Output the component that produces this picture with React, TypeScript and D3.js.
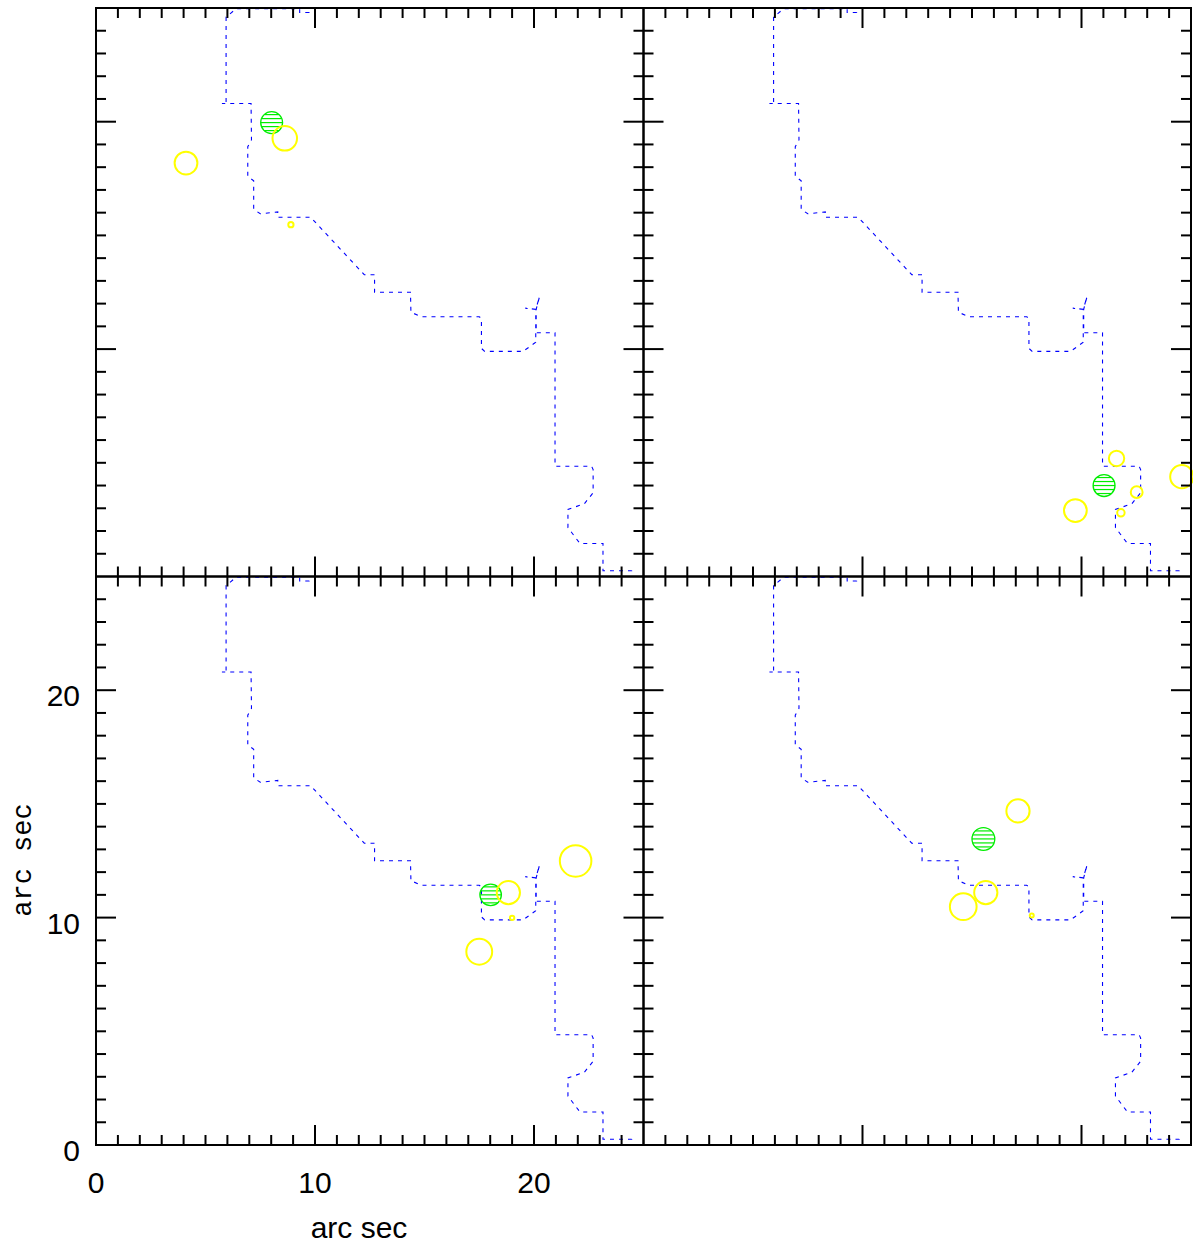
import React, { useRef, useEffect } from 'react';
import { select, scaleLinear, line, range } from 'd3';

const dim = {
  width: 1193,
  height: 1249,
  left: 96,
  right: 1191,
  top: 8,
  bottom: 1145,
  midX: 643.5,
  midY: 576.5,
};

// field outline (arc sec), shared by all four panels
const contour: [number, number][] = [
  [9.73, 25.6], [9.73, 24.8], [9.3, 24.8], [9.3, 24.97], [6.4, 24.97], [5.94, 24.6],
  [5.94, 20.8], [5.75, 20.8], [7.08, 20.8], [7.1, 19.2], [6.93, 18.9], [6.93, 17.6],
  [7.2, 17.4], [7.2, 16.15], [7.5, 15.95], [8.3, 16.03], [8.3, 15.8], [9.8, 15.8],
  [12.25, 13.27], [12.72, 13.27], [12.72, 12.5], [14.36, 12.5], [14.38, 11.62],
  [14.87, 11.42], [17.5, 11.42], [17.6, 11.35], [17.6, 10.03], [17.75, 9.9], [19.5, 9.9],
  [20.08, 10.3], [20.08, 11.75], [19.6, 11.8], [20.08, 11.75], [20.25, 12.3],
  [20.1, 11.75], [20.1, 10.72], [20.96, 10.72], [20.96, 4.85], [22.63, 4.85],
  [22.7, 4.7], [22.7, 3.68], [22.3, 3.2], [21.55, 2.95], [21.55, 2.15], [22.1, 1.45],
  [23.15, 1.45], [23.15, 0.25], [24.46, 0.25], [24.46, 0.45],
];

const panelKeys = ['tl', 'tr', 'bl', 'br'];

// hatched (green) sources per panel: [x, y, r]
const greenTL = [[8.02, 19.96, 0.5]];
const greenTR = [[21.03, 4.0, 0.5]];
const greenBL = [[18.02, 11.0, 0.49]];
const greenBR = [[15.52, 13.46, 0.52]];

// open (yellow) sources per panel: [x, y, r]
const yellowTL = [[8.62, 19.27, 0.56], [4.11, 18.18, 0.52], [8.9, 15.47, 0.12]];
const yellowTR = [
  [21.6, 5.19, 0.35], [19.72, 2.9, 0.52], [22.52, 3.71, 0.27],
  [21.8, 2.8, 0.17], [24.58, 4.39, 0.53],
];
const yellowBL = [[18.83, 11.1, 0.53], [21.9, 12.49, 0.72], [17.5, 8.5, 0.59], [19.0, 9.99, 0.1]];
const yellowBR = [[17.1, 14.69, 0.53], [15.63, 11.1, 0.53], [14.6, 10.48, 0.61], [17.73, 10.09, 0.09]];

const greens: Record<string, number[][]> = { tl: greenTL, tr: greenTR, bl: greenBL, br: greenBR };
const yellows: Record<string, number[][]> = { tl: yellowTL, tr: yellowTR, bl: yellowBL, br: yellowBR };

const tickLabels = [0, 10, 20];

const App = () => {
  const svgRef = useRef(null);

  useEffect(() => {
    const svg = select(svgRef.current);
    svg.selectAll('*').remove();

    const boxes: Record<string, number[]> = {
      tl: [dim.left, dim.midX, dim.top, dim.midY],
      tr: [dim.midX, dim.right, dim.top, dim.midY],
      bl: [dim.left, dim.midX, dim.midY, dim.bottom],
      br: [dim.midX, dim.right, dim.midY, dim.bottom],
    };

    const defs = svg.append('defs');

    panelKeys.forEach((key) => {
      const [x0, x1, y0, y1] = boxes[key];
      const xScale = scaleLinear().domain([0, 25]).range([x0, x1]);
      const yScale = scaleLinear().domain([0, 25]).range([y1, y0]);
      const g = svg.append('g');

      defs.append('clipPath').attr('id', 'clip-' + key)
        .append('rect')
        .attr('x', x0).attr('y', y0).attr('width', x1 - x0).attr('height', y1 - y0);

      const outline = line<[number, number]>()
        .x((d) => xScale(d[0]))
        .y((d) => yScale(d[1]));

      g.append('path')
        .attr('d', outline(contour))
        .attr('clip-path', `url(#clip-${key})`)
        .attr('fill', 'none')
        .attr('stroke', '#0000ff')
        .attr('stroke-width', 1.1)
        .attr('stroke-dasharray', '4,5');

      // hatched sources
      greens[key].forEach(([cx, cy, r]) => {
        const px = xScale(cx);
        const py = yScale(cy);
        const pr = xScale(r) - xScale(0);
        g.append('circle')
          .attr('cx', px).attr('cy', py).attr('r', pr)
          .attr('fill', 'none').attr('stroke', '#00ee00').attr('stroke-width', 1.3);
        [-8, -4, 0, 4, 8].forEach((dy) => {
          const half = Math.sqrt(Math.max(pr * pr - dy * dy, 0));
          g.append('line')
            .attr('x1', px - half).attr('x2', px + half)
            .attr('y1', py + dy).attr('y2', py + dy)
            .attr('stroke', '#00ee00').attr('stroke-width', 1.2);
        });
      });

      g.selectAll('circle.src')
        .data(yellows[key])
        .join('circle')
        .attr('class', 'src')
        .attr('cx', (d) => xScale(d[0]))
        .attr('cy', (d) => yScale(d[1]))
        .attr('r', (d) => xScale(d[2]) - xScale(0))
        .attr('fill', 'none')
        .attr('stroke', '#ffff00')
        .attr('stroke-width', 2);

      // frame
      g.append('rect')
        .attr('x', x0).attr('y', y0).attr('width', x1 - x0).attr('height', y1 - y0)
        .attr('fill', 'none').attr('stroke', '#000').attr('stroke-width', 2);

      // ticks on all four sides, pointing inward
      const ticks = range(1, 25);
      const len = (v: number) => (v % 10 === 0 ? 20 : 10);
      const tg = g.append('g').attr('stroke', '#000').attr('stroke-width', 2);
      ticks.forEach((v) => {
        const x = xScale(v);
        const y = yScale(v);
        tg.append('line').attr('x1', x).attr('x2', x).attr('y1', y1).attr('y2', y1 - len(v));
        tg.append('line').attr('x1', x).attr('x2', x).attr('y1', y0).attr('y2', y0 + len(v));
        tg.append('line').attr('y1', y).attr('y2', y).attr('x1', x0).attr('x2', x0 + len(v));
        tg.append('line').attr('y1', y).attr('y2', y).attr('x1', x1).attr('x2', x1 - len(v));
      });

      if (key === 'bl') {
        g.selectAll('text.xl')
          .data(tickLabels)
          .join('text')
          .attr('class', 'xl')
          .attr('x', (d) => xScale(d))
          .attr('y', y1 + 48)
          .attr('text-anchor', 'middle')
          .attr('font-family', 'Liberation Sans, Arial, sans-serif')
          .attr('font-size', 30)
          .text((d) => d);

        g.selectAll('text.yl')
          .data(tickLabels)
          .join('text')
          .attr('class', 'yl')
          .attr('x', x0 - 16)
          .attr('y', (d) => yScale(d) + 16)
          .attr('text-anchor', 'end')
          .attr('font-family', 'Liberation Sans, Arial, sans-serif')
          .attr('font-size', 30)
          .text((d) => d);

        g.append('text')
          .attr('x', 359)
          .attr('y', 1238)
          .attr('text-anchor', 'middle')
          .attr('font-family', 'Liberation Sans, Arial, sans-serif')
          .attr('font-size', 30)
          .text('arc sec');

        g.append('text')
          .attr('transform', 'translate(31,860) rotate(-90)')
          .attr('text-anchor', 'middle')
          .attr('font-family', 'Liberation Mono, Courier New, monospace')
          .attr('font-size', 27)
          .text('arc sec');
      }
    });
  }, []);

  return (
    <div>
      <svg
        style={{ position: 'absolute', left: 0, top: 0, background: '#fff' }}
        width={dim.width}
        height={dim.height}
        ref={svgRef}
      />
    </div>
  );
};

export default App;
